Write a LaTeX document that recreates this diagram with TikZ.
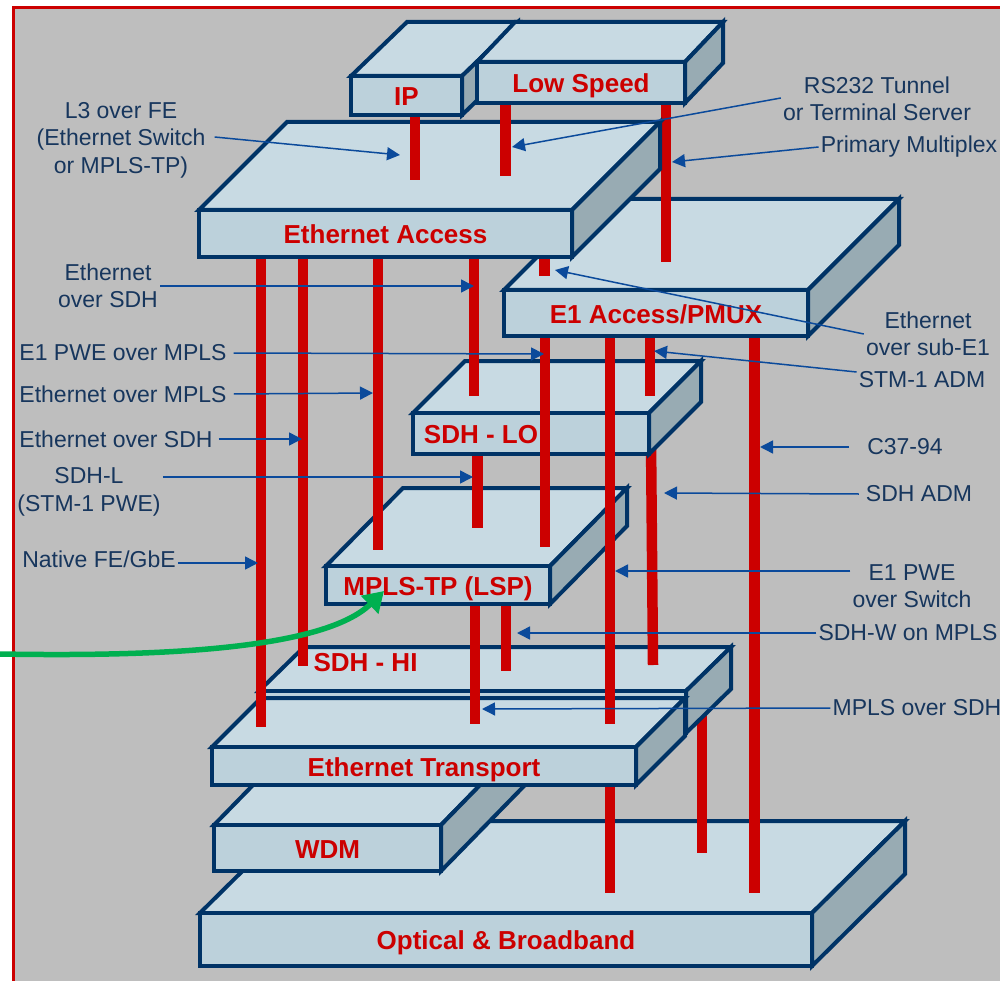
\documentclass[tikz,border=0pt]{standalone}
\usepackage{fontspec}
\setmainfont{Liberation Sans}
\usetikzlibrary{arrows.meta, positioning}

\definecolor{panelgray}{HTML}{BEBEBE}
\definecolor{topblue}{HTML}{C8DAE3}
\definecolor{frontblue}{HTML}{BCD1DB}
\definecolor{sidegray}{HTML}{98ABB3}
\definecolor{edgenavy}{HTML}{003366}
\definecolor{riserred}{HTML}{CC0000}
\definecolor{calloutblue}{HTML}{0B4A9B}
\definecolor{labelnavy}{HTML}{17365D}
\definecolor{feedgreen}{HTML}{00B050}

\tikzset{
  topface/.style={fill=topblue, draw=edgenavy, line width=4pt},
  sideface/.style={fill=sidegray, draw=edgenavy, line width=4pt},
  frontface/.style={fill=frontblue, draw=edgenavy, line width=4pt, outer sep=0pt, inner sep=0pt,
    text=riserred, text height=20.5pt, text depth=0pt, font=\fontsize{26}{30}\selectfont\bfseries},
  layertext/.style={text=riserred, font=\fontsize{26}{30}\selectfont\bfseries},
  riser/.style={riserred, line width=10.5pt},
  calloutlabel/.style={text=labelnavy, align=center, inner sep=2pt, font=\fontsize{23}{27.5}\selectfont},
  callout/.style={calloutblue, line width=1.5pt, -{Triangle[length=13pt,width=13pt]}}
}

% name, front left, front top, front right, front bottom, depth x, depth y, text
\newcommand{\layerbox}[8]{
  \draw[topface] (#2,#3) -- ++(#6,-#7) -- ({#4+#6},{#3-#7}) -- (#4,#3) -- cycle;
  \draw[sideface] (#4,#3) -- ++(#6,-#7) -- ({#4+#6},{#5-#7}) -- (#4,#5) -- cycle;
  \node[frontface, minimum width={(#4-#2)*1pt}, minimum height={(#5-#3)*1pt}] (#1) at ({(#2+#4)/2},{(#3+#5)/2}) {#8};
}
% name, x, upper end, lower end
\newcommand{\riserbar}[4]{
  \coordinate (#1T) at (#2,#3);
  \coordinate (#1B) at (#2,#4);
  \draw[riser] (#1T) -- (#1B);
}

\begin{document}
\begin{tikzpicture}[x=1pt, y=-1pt]
\useasboundingbox (0,0) rectangle (1000,981);

% Panel
\fill[panelgray] (13,8) rectangle (1000,981);
\draw[riserred, line width=3pt] (13.5,981) -- (13.5,8) -- (1000,8);

% Lower layers
\layerbox{optical}{200}{913}{812}{966}{93}{92}{Optical \& Broadband}
\riserbar{sdhwlow}{702}{700}{853}
\riserbar{transpB}{610}{780}{893}
\layerbox{wdm}{214}{825}{441}{871}{84}{86}{WDM}
\layerbox{sdhhi}{259}{691}{686}{733}{45}{44}{}
\node[layertext] (sdhhitext) at (365.5,663) {SDH - HI};
\layerbox{transport}{212}{747}{636}{785}{49}{49}{Ethernet Transport}

% Risers behind MPLS-TP and SDH-LO
\riserbar{lspA}{475}{600}{724}
\riserbar{lspB}{506}{600}{671}
\coordinate (admT) at (651,440);
\coordinate (admB) at (653,665);
\draw[riser] (admT) -- (admB);

% Middle layers
\layerbox{lsp}{326}{566}{550}{604}{77}{78}{MPLS-TP (LSP)}
\layerbox{sdhlo}{413}{413}{649}{454}{52}{52}{}
\node[layertext] (sdholotext) at (481,435) {SDH - LO};

% Risers in front of them
\riserbar{nativ}{261}{250}{727}
\riserbar{eosdhA}{303}{250}{666}
\riserbar{eompls}{378}{250}{550}
\riserbar{eosdhB}{474}{250}{396}
\riserbar{pwe}{545}{330}{547}
\riserbar{pweSw}{610}{330}{724}
\riserbar{stm}{650}{330}{396}
\riserbar{sdhl}{477.5}{456}{528}
\riserbar{cthree}{754.5}{330}{893}

% Upper layers
\layerbox{eoneacc}{504}{290}{808}{336}{91}{91}{E1 Access/PMUX}
\riserbar{subeone}{544.5}{250}{276}
\riserbar{primux}{666}{100}{262}
\layerbox{ethacc}{199}{210}{572}{257}{88}{88}{Ethernet Access}
\riserbar{lthree}{415}{110}{180}
\riserbar{tunnel}{505.5}{100}{176}
\layerbox{ip}{351}{76}{462}{115}{56}{54}{IP}
\layerbox{lowspd}{477}{62}{685}{103}{38}{40}{Low Speed}

% Labels
\node[calloutlabel] (lthreelab) at (121,140) {L3 over FE\\(Ethernet Switch\\or MPLS-TP)};
\node[calloutlabel] (tunnellab) at (877,99) {RS232 Tunnel\\or Terminal Server};
\node[calloutlabel] (primuxlab) at (909,147) {Primary Multiplex};
\node[calloutlabel] (eosdhBlab) at (108,286) {Ethernet\\over SDH};
\node[calloutlabel] (pwelab) at (123,353) {E1 PWE over MPLS};
\node[calloutlabel] (eomplslab) at (123,394) {Ethernet over MPLS};
\node[calloutlabel] (eosdhAlab) at (116,439) {Ethernet over SDH};
\node[calloutlabel] (sdhllab) at (89,492) {SDH-L\\(STM-1 PWE)};
\node[calloutlabel] (nativlab) at (99,559) {Native FE/GbE};
\node[calloutlabel] (subeonelab) at (928,334) {Ethernet\\over sub-E1};
\node[calloutlabel] (stmlab) at (922,380) {STM-1 ADM};
\node[calloutlabel] (cthreelab) at (905,447) {C37-94};
\node[calloutlabel] (admlab) at (919,494) {SDH ADM};
\node[calloutlabel] (pweSwlab) at (912,586) {E1 PWE\\over Switch};
\node[calloutlabel] (sdhwlab) at (908,633) {SDH-W on MPLS};
\node[calloutlabel] (moslab) at (917,708) {MPLS over SDH};

% Callout arrows
\coordinate (lthreePt) at (400,155);
\coordinate (tunnelPt) at (512,147);
\coordinate (primuxPt) at (672,162);
\coordinate (eosdhBPt) at (474,286);
\coordinate (pwePt) at (544,354);
\coordinate (eomplsPt) at (373,393);
\coordinate (eosdhAPt) at (302,439);
\coordinate (sdhlPt) at (473,477);
\coordinate (nativPt) at (258,563);
\coordinate (subeonePt) at (555,270);
\coordinate (stmPt) at (654,351);
\coordinate (cthreePt) at (760,447);
\coordinate (admPt) at (664,493);
\coordinate (pweSwPt) at (615,571);
\coordinate (sdhwPt) at (517,633);
\coordinate (mosPt) at (482,709);
\draw[callout] ([xshift=7pt,yshift=3pt]lthreelab.east) -- (lthreePt);
\draw[callout] ([yshift=1pt]tunnellab.west) -- (tunnelPt);
\draw[callout] (primuxlab.west) -- (primuxPt);
\draw[callout] (eosdhBlab.east |- eosdhBPt) -- (eosdhBPt);
\draw[callout] ([xshift=5pt]pwelab.east) -- (pwePt);
\draw[callout] ([xshift=5pt]eomplslab.east) -- (eomplsPt);
\draw[callout] ([xshift=4pt]eosdhAlab.east) -- (eosdhAPt);
\draw[callout] (sdhllab.east |- sdhlPt) -- (sdhlPt);
\draw[callout] (nativlab.east |- nativPt) -- (nativPt);
\draw[callout] (subeonelab.west) -- (subeonePt);
\draw[callout] ([yshift=8pt]stmlab.west) -- (stmPt);
\draw[callout] ([xshift=-16pt]cthreelab.west) -- (cthreePt);
\draw[callout] ([xshift=-5pt]admlab.west) -- (admPt);
\draw[callout] (pweSwlab.west |- pweSwPt) -- (pweSwPt);
\draw[callout] (sdhwlab.west) -- (sdhwPt);
\draw[callout] (moslab.west) -- (mosPt);

% Green feed
\coordinate (feedS) at (0,654);
\coordinate (feedE) at (384,591);
\draw[feedgreen, line width=5.5pt, -{Triangle[length=20pt,width=24pt]}] (feedS) .. controls (170,657) and (325,648) .. (feedE);
\end{tikzpicture}
\end{document}
